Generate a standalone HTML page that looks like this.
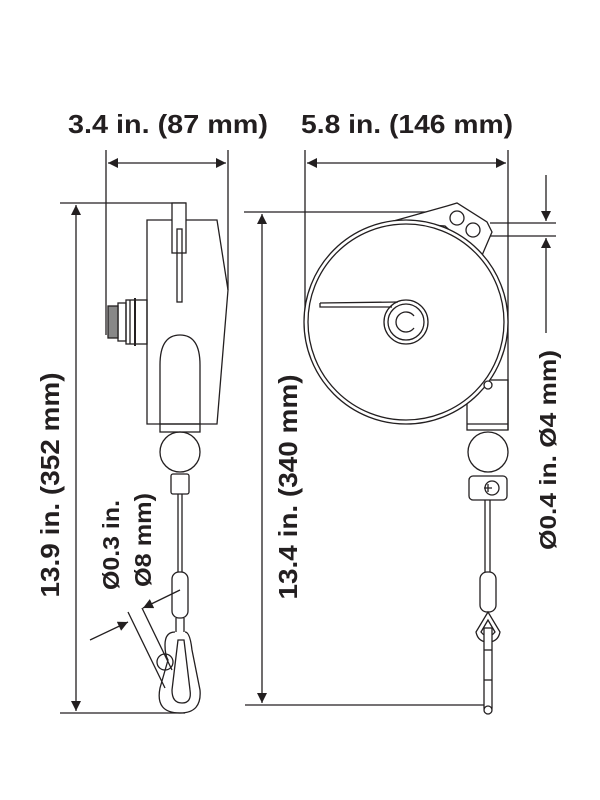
<!DOCTYPE html>
<html><head><meta charset="utf-8"><style>
html,body{margin:0;padding:0;background:#fff}
svg{display:block}
text{font-family:"Liberation Sans",sans-serif;font-weight:bold;fill:#231f20}
</style></head><body>
<svg width="600" height="800" viewBox="0 0 600 800" xmlns="http://www.w3.org/2000/svg">
<defs>
<marker id="a" viewBox="0 0 10 10" refX="10" refY="5" markerWidth="14" markerHeight="10" markerUnits="userSpaceOnUse" orient="auto-start-reverse"><path d="M0,0 L10,5 L0,10z" fill="#231f20"/></marker>
</defs>
<g stroke="#231f20" stroke-width="1.3" fill="none">
<line x1="106" y1="150" x2="106" y2="335"/>
<line x1="228" y1="150" x2="228" y2="290"/>
<line x1="108" y1="163" x2="226" y2="163" marker-start="url(#a)" marker-end="url(#a)"/>
<line x1="60" y1="203" x2="186" y2="203"/>
<line x1="60" y1="713" x2="185" y2="713"/>
<line x1="76" y1="205" x2="76" y2="711" marker-start="url(#a)" marker-end="url(#a)"/>
<rect x="172" y="203" width="14" height="50" fill="#fff"/>
<path d="M186,220 L217,220 L228,290 L217,424 L147,424 L147,220 L172,220"/>
<rect x="177" y="229" width="5" height="73"/>
<path d="M160,424 L160,365 Q160,335 180,335 Q200,335 200,365 L200,424"/>
<rect x="160" y="424" width="40" height="8"/>
<rect x="126" y="300" width="21" height="44"/>
<rect x="118" y="303" width="8" height="38"/>
<rect x="108" y="306" width="10" height="32" fill="#888"/>
<line x1="130" y1="300" x2="130" y2="344"/><line x1="135" y1="298" x2="135" y2="346" stroke-width="2"/>
<circle cx="180" cy="452" r="20"/>
<rect x="171" y="474" width="18" height="20" rx="2"/>
<line x1="178" y1="494" x2="178" y2="572"/><line x1="182" y1="494" x2="182" y2="572"/>
<rect x="172" y="572" width="16" height="46" rx="7"/>
<line x1="176" y1="618" x2="176" y2="632"/><line x1="184" y1="618" x2="184" y2="632"/>
<path d="M175,632 Q165,632 165,645 Q165,655 168,660 L160,688 Q155,713 180,713 Q202,713 200,690 L192,650 Q190,632 185,632"/>
<path d="M178,640 L172,690 Q172,703 182,703 Q192,703 190,690 L184,640z"/>
<circle cx="165" cy="662" r="8"/>
<line x1="90" y1="640" x2="128" y2="622" marker-end="url(#a)"/>
<line x1="180" y1="590" x2="143" y2="608" marker-end="url(#a)"/>
<line x1="128" y1="612" x2="165" y2="688"/>
<line x1="142" y1="608" x2="172" y2="670"/>
<line x1="305" y1="150" x2="305" y2="312"/>
<line x1="508" y1="150" x2="508" y2="430"/>
<line x1="307" y1="163" x2="506" y2="163" marker-start="url(#a)" marker-end="url(#a)"/>
<line x1="244" y1="212" x2="450" y2="212"/>
<line x1="490" y1="223" x2="556" y2="223"/>
<line x1="490" y1="236" x2="556" y2="236"/>
<line x1="546" y1="175" x2="546" y2="221" marker-end="url(#a)"/>
<line x1="546" y1="333" x2="546" y2="238" marker-end="url(#a)"/>
<line x1="262" y1="214" x2="262" y2="703" marker-start="url(#a)" marker-end="url(#a)"/>
<line x1="245" y1="705" x2="485" y2="705"/>
<rect x="467" y="380" width="41" height="50"/>
<line x1="467" y1="424" x2="508" y2="424"/>
<path d="M390,222 L447,206 L457,203 L487,222 L492,232 L480,260 L460,240 L445,226z" fill="#fff"/>
<circle cx="406" cy="322" r="102" fill="#fff"/>
<circle cx="406" cy="322" r="98"/>
<circle cx="457" cy="218" r="7"/>
<circle cx="473" cy="230" r="7"/>
<circle cx="488" cy="385" r="4" fill="#fff"/>
<path d="M320,303 L398,302 M320,303 L320,307 L392,307"/>
<circle cx="406" cy="322" r="22"/>
<circle cx="406" cy="322" r="18"/>
<path d="M414,316 A10,10 0 1 0 414,328"/>
<circle cx="488" cy="452" r="20"/>
<rect x="469" y="476" width="38" height="24" rx="4"/>
<circle cx="492" cy="488" r="7"/>
<path d="M488,484 v8 M484,488 h8"/>
<line x1="485" y1="500" x2="485" y2="572"/><line x1="490" y1="500" x2="490" y2="572"/>
<rect x="480" y="572" width="16" height="40" rx="7"/>
<path d="M488,612 L476,632 Q478,642 488,642 Q498,642 500,632z"/>
<path d="M488,620 L481,632 Q484,636 488,636 Q492,636 495,632z"/>
<rect x="484" y="628" width="8" height="80" fill="#fff"/>
<line x1="484" y1="650" x2="492" y2="650"/><line x1="484" y1="680" x2="492" y2="680"/>
<circle cx="488" cy="710" r="4" fill="#fff"/>
</g>
<text x="168" y="133" font-size="26" text-anchor="middle" textLength="200" lengthAdjust="spacingAndGlyphs">3.4 in. (87 mm)</text>
<text x="407" y="133" font-size="26" text-anchor="middle" textLength="212" lengthAdjust="spacingAndGlyphs">5.8 in. (146 mm)</text>
<text transform="translate(59,485) rotate(-90)" font-size="26" text-anchor="middle" textLength="225" lengthAdjust="spacingAndGlyphs">13.9 in. (352 mm)</text>
<text transform="translate(297,487) rotate(-90)" font-size="26" text-anchor="middle" textLength="225" lengthAdjust="spacingAndGlyphs">13.4 in. (340 mm)</text>
<text transform="translate(119,545) rotate(-90)" font-size="23" text-anchor="middle" textLength="90" lengthAdjust="spacingAndGlyphs">Ø0.3 in.</text>
<text transform="translate(151,540) rotate(-90)" font-size="23" text-anchor="middle" textLength="94" lengthAdjust="spacingAndGlyphs">Ø8 mm)</text>
<text transform="translate(556,450) rotate(-90)" font-size="23" text-anchor="middle" textLength="200" lengthAdjust="spacingAndGlyphs">Ø0.4 in. Ø4 mm)</text>
</svg>
</body></html>
